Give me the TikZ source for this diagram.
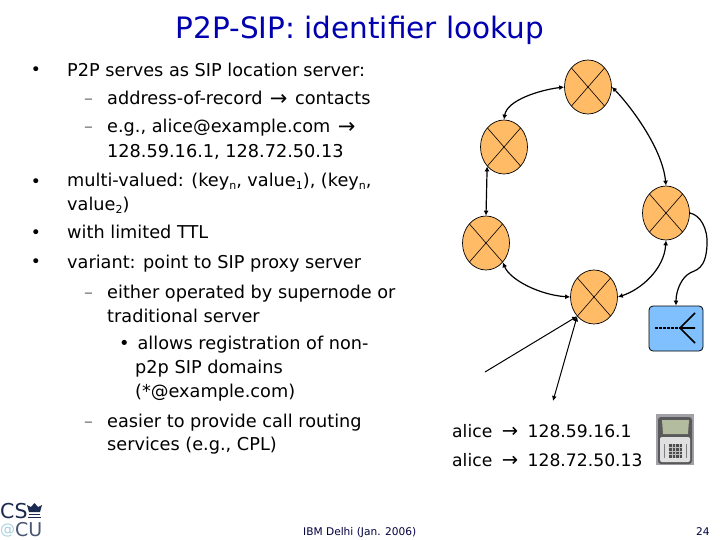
\documentclass[tikz,border=0pt]{standalone}
\usepackage{fontspec}
\setmainfont{DejaVu Sans}
\usetikzlibrary{shapes.geometric,arrows.meta}
\definecolor{nodeorange}{HTML}{FFBB66}
\definecolor{boxblue}{HTML}{80C0FF}
\definecolor{titleblue}{HTML}{0000B0}
\definecolor{logoblue}{HTML}{1A2A50}
\definecolor{logolight}{HTML}{A8D0E0}
\definecolor{lcd}{HTML}{B4BCA0}
\tikzset{
  peer/.style={ellipse,draw=black,line width=0.7pt,fill=nodeorange,minimum width=47pt,minimum height=54pt,inner sep=0pt,
    path picture={\draw[line width=0.6pt] (path picture bounding box.north west)--(path picture bounding box.south east)
      (path picture bounding box.north east)--(path picture bounding box.south west);}},
  link/.style={line width=1.2pt,{Latex[length=5pt,width=5pt]}-{Latex[length=5pt,width=5pt]}},
  line/.style={anchor=base west,inner sep=0pt,font=\fontsize{17.7}{20}\selectfont,text=black},
  bul/.style={anchor=center,inner sep=0pt,font=\fontsize{17}{18}\selectfont},
  foot/.style={anchor=base west,inner sep=0pt,font=\fontsize{10.6}{12}\selectfont,text=black!75!blue}
}
\newcommand{\subs}[1]{\raisebox{-2.5pt}{\fontsize{11}{12}\selectfont #1}}
\newcommand{\dd}{\makebox[23pt][l]{\textcolor{black!55}{–}}}
\newcommand{\ar}{\hspace{7.5pt}{\fontsize{21}{18}\selectfont\raisebox{-0.5pt}{→}}\hspace{7.5pt}}
\newcommand{\arb}{\hspace{9.5pt}{\fontsize{19.5}{18}\selectfont\raisebox{-0.5pt}{→}}\hspace{9.5pt}}
\begin{document}
\begin{tikzpicture}[x=1pt,y=-1pt]
\useasboundingbox (0,0) rectangle (720,540);
\fill[white] (0,0) rectangle (720,540);
\node[anchor=base,inner sep=0pt,text=titleblue,font=\fontsize{29.5}{32}\selectfont] (title) at (360,39) {P2P-SIP: identifier lookup};
\foreach \n/\y in {b1/71,b2/183,b3/234,b4/263}{\node[bul] (\n) at (36,\y) {•};}
\node[line] (l1) at (67,77) {P2P serves as SIP location server:};
\node[line] (l2) at (84,105) {\dd address-of-record\ar contacts};
\node[line] (l3) at (84,133) {\dd e.g., alice@example.com\ar};
\node[line] (l4) at (107,158) {128.59.16.1, 128.72.50.13};
\node[line] (l5) at (67,187) {multi-valued: (key\subs{n}, value\subs{1}), (key\subs{n},};
\node[line] (l6) at (67,211) {value\subs{2})};
\node[line] (l7) at (67,239) {with limited TTL};
\node[line] (l8) at (67,268) {variant: point to SIP proxy server};
\node[line] (l9) at (84,298) {\dd either operated by supernode or};
\node[line] (l10) at (107,322) {traditional server};
\node[line] (l11) at (119,349) {•\hspace{8pt}allows registration of non-};
\node[line] (l12) at (135,373) {p2p SIP domains};
\node[line] (l13) at (135,397) {(*@example.com)};
\node[line] (l14) at (84,427) {\dd easier to provide call routing};
\node[line] (l15) at (107,450) {services (e.g., CPL)};
\node[foot] (f1) at (303,535) {IBM Delhi (Jan. 2006)};
\node[foot] (f2) at (696,535) {24};
% peers
\node[peer] (top) at (588,87) {};
\node[peer] (ul) at (504,147) {};
\node[peer] (ll) at (486,243) {};
\node[peer] (rt) at (666,213) {};
\node[peer] (bt) at (594,297) {};
\node[draw=black,line width=0.8pt,fill=boxblue,rounded corners=4pt,minimum width=54pt,minimum height=45pt,inner sep=0pt] (box) at (676,328.5) {};
\coordinate (iv) at (680,328);
\coordinate (ie) at (655,328);
\coordinate (iu) at (695,313);
\coordinate (id) at (695,343);
\coordinate (im) at (695,328);
\draw[line width=1.6pt,dash pattern=on 3pt off 1pt] (ie)--(iv);
\draw[line width=1.6pt] (iu)--(iv)--(id) (iv)--(im);
\draw[link] (top.west) .. controls (540,90) and (507,100) .. (ul.north);
\draw[link] (top.east) .. controls (625,100) and (662,145) .. (rt.north);
\draw[link] (ul.south west) -- (ll.north);
\draw[link] (ll.south east) .. controls (510,280) and (540,295) .. (bt.west);
\draw[link] (bt.east) .. controls (640,290) and (664,270) .. (rt.south);
\draw[line width=1.2pt,-{Latex[length=5pt,width=5pt]}] (rt.east) .. controls (700,215) and (708,228) .. (707,245) .. controls (706,270) and (695,270) .. (690,273) .. controls (682,277) and (676,290) .. (box.north);
\coordinate (fa) at (485,372);
\coordinate (fb) at (553,401);
\draw[line width=1pt,-{Latex[length=5pt,width=5pt]}] (fa) -- (bt.south west);
\draw[line width=1pt,{Latex[length=5pt,width=5pt]}-{Latex[length=5pt,width=5pt]}] (bt.south west) -- (fb);
\node[anchor=base west,inner sep=0pt,font=\fontsize{17.2}{19}\selectfont] (a1) at (452,437) {alice\arb 128.59.16.1};
\node[anchor=base west,inner sep=0pt,font=\fontsize{17.2}{19}\selectfont] (a2) at (452,466) {alice\arb 128.72.50.13};
% phone
\fill[black!35!blue!5!gray!70] (656,414) rectangle (694,465);
\fill[black!65,rounded corners=3pt] (658,417) rectangle (692,464);
\fill[black!12,rounded corners=2pt] (660,437) rectangle (690,462);
\fill[lcd] (662,420) -- (689,420) -- (688,434) -- (663,434) -- cycle;
\fill[black!70] (669,444) rectangle (682,458);
\foreach \g in {672.25,675.5,678.75}{\draw[black!25,line width=0.4pt] (\g,444)--(\g,458);}
\foreach \g in {447.5,451,454.5}{\draw[black!25,line width=0.4pt] (669,\g)--(682,\g);}
\draw[black!50,line width=1pt] (664,444)--(664,458) (686,444)--(686,458);
% logo
\node[anchor=base west,inner sep=0pt,text=logoblue,font=\fontsize{20.5}{24}\selectfont] (cs) at (0,518) {CS};
\node[anchor=base west,inner sep=0pt,text=logolight,font=\fontsize{15}{18}\selectfont] (at) at (0,534) {@};
\node[anchor=base west,inner sep=0pt,text=logoblue!80,font=\fontsize{19}{24}\selectfont] (cu) at (15,536) {CU};
\fill[logoblue] (29,512) -- (27,505) -- (31,507) -- (34.5,503) -- (38,507) -- (42,505) -- (40,512) -- cycle;
\fill[logoblue] (29,513.5) rectangle (40,515);
\fill[logoblue] (28,516.5) rectangle (41,518);
\end{tikzpicture}
\end{document}
